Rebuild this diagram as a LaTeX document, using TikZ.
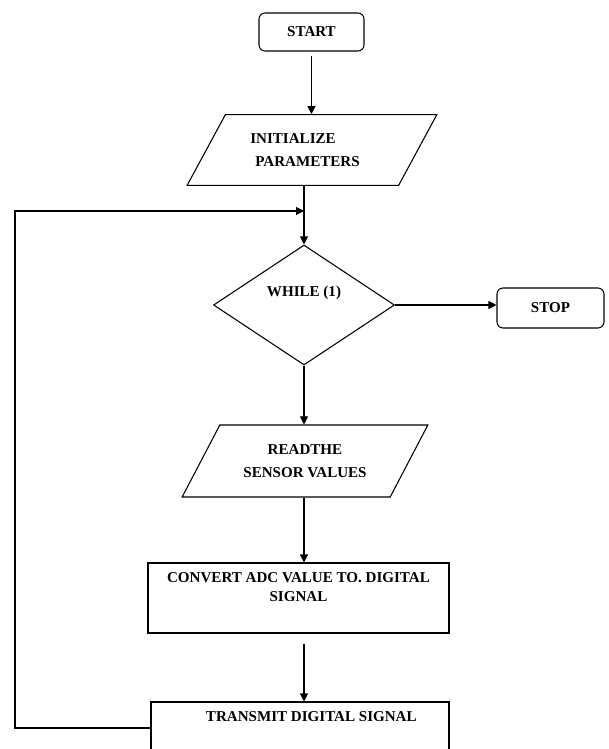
\documentclass[tikz,border=0pt]{standalone}
\usepackage{fontspec}
\setmainfont{Liberation Serif}
\usetikzlibrary{shapes.geometric, arrows.meta, positioning}

\begin{document}
\begin{tikzpicture}[
    x=0.75pt, y=-0.75pt,
    every node/.style={font=\fontsize{11.3}{17}\selectfont\bfseries},
    terminal/.style={draw, line width=0.8pt, rounded corners=4.5pt,
                     minimum width=78.75pt, minimum height=28.5pt},
    io/.style={draw, line width=0.8pt, trapezium, trapezium stretches=true,
               trapezium left angle=55, trapezium right angle=125,
               minimum width=187.5pt, minimum height=53pt, align=center},
    decision/.style={draw, line width=0.8pt, diamond, inner sep=0pt,
                     minimum width=135.75pt, minimum height=90pt},
    process/.style={draw, line width=0.8pt, rectangle},
    arrow/.style={-{Triangle[length=6pt, width=6pt]}, line width=0.8pt}
]
    \useasboundingbox (0,0) rectangle (608,749);

    \node[terminal] (start) at (311.5,32) {START};
    \node[io, align=left] (init) at (312,150)
        {INITIALIZE\\\hspace*{3.75pt}PARAMETERS\hspace*{10.5pt}};
    \coordinate (merge) at (304,211);
    \coordinate (back) at (15,211);
    \node[decision, label={[yshift=9pt]center:WHILE (1)}] (loop) at (304,305) {};
    \node[terminal, minimum width=80.25pt, minimum height=30pt] (stop) at (550.5,308) {STOP};
    \node[io, minimum width=184.5pt, minimum height=54pt] (read) at (305,461)
        {READTHE\\SENSOR VALUES};
    \node[process, minimum width=225.75pt, minimum height=52.5pt,
          label={[align=center, yshift=8pt, font=\fontsize{11.3}{14.25}\selectfont\bfseries]center:CONVERT ADC VALUE TO. DIGITAL\\SIGNAL}]
        (adc) at (298.5,598) {};
    \node[process, minimum width=223.5pt, minimum height=66pt,
          label={[xshift=8.5pt, yshift=21.75pt]center:TRANSMIT DIGITAL SIGNAL}]
        (trans) at (300,746) {};

    % main flow
    \draw[arrow, shorten <=3pt] (start.south) -- (start.south |- init.north);
    \draw[arrow] (init.south -| loop.north) -- (loop.north);
    \draw[arrow] (loop.east) -- (loop.east -| stop.west);
    \draw[arrow] (loop.south) -- (loop.south |- read.north);
    \draw[arrow] (loop.south |- read.south) -- (loop.south |- adc.north);
    \draw[arrow, shorten <=7.5pt] (loop.south |- adc.south) -- (loop.south |- trans.north);

    % loop back
    \draw[arrow] ([yshift=13.5pt]trans.west) -| (back) -- (merge);
\end{tikzpicture}
\end{document}
